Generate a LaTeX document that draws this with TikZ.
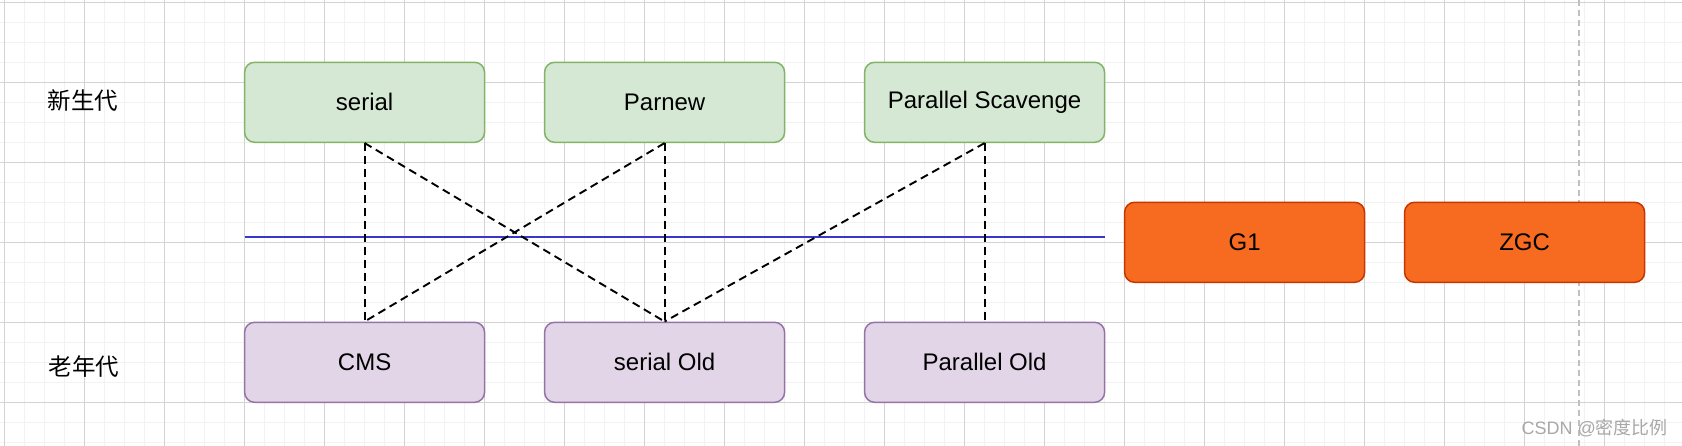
\documentclass[tikz,border=0pt]{standalone}
\usepackage{fontspec}
\setmainfont{Liberation Sans}
\newfontfamily\cjk{Noto Sans CJK SC}
\definecolor{gridminor}{HTML}{F2F2F2}
\definecolor{gridmajor}{HTML}{D3D3D3}
\definecolor{greenfill}{HTML}{D5E8D4}
\definecolor{greenline}{HTML}{82B366}
\definecolor{purplefill}{HTML}{E1D5E7}
\definecolor{purpleline}{HTML}{9673A6}
\definecolor{orangefill}{HTML}{F76B20}
\definecolor{orangeline}{HTML}{C73500}
\definecolor{blueline}{HTML}{3737CC}
\definecolor{pagebreak}{HTML}{C0C0C0}
\definecolor{wmark}{HTML}{A8A8A8}
\tikzset{
  gcbox/.style={rectangle, rounded corners=10pt, line width=1.5pt, minimum width=240pt, minimum height=80pt, inner sep=0pt, font=\fontsize{24}{28}\selectfont, text=black},
  young/.style={gcbox, fill=greenfill, draw=greenline},
  old/.style={gcbox, fill=purplefill, draw=purpleline},
  full/.style={gcbox, fill=orangefill, draw=orangeline},
  link/.style={line width=1.9pt, dash pattern=on 8pt off 5pt},
  rowlabel/.style={font=\cjk\fontsize{23.5}{27}\selectfont, inner sep=0pt}
}
\begin{document}
\begin{tikzpicture}[x=1pt,y=-1pt]
\useasboundingbox (0,0) rectangle (1682,446);
\fill[white] (0,0) rectangle (1682,446);
% grid
\foreach \i in {0,...,84} {\draw[gridminor, line width=0.8pt] ({4.6+20*\i},0) -- ({4.6+20*\i},446);}
\foreach \j in {0,...,22} {\draw[gridminor, line width=0.8pt] (0,{2.3+20*\j}) -- (1682,{2.3+20*\j});}
\foreach \i in {0,...,21} {\draw[gridmajor, line width=0.8pt] ({4.6+80*\i},0) -- ({4.6+80*\i},446);}
\foreach \j in {0,...,5} {\draw[gridmajor, line width=0.8pt] (0,{2.3+80*\j}) -- (1682,{2.3+80*\j});}
% page break line
\coordinate (pbtop) at (1579,0);
\coordinate (pbbot) at (1579,446);
\draw[pagebreak, line width=1.5pt, dash pattern=on 6pt off 4pt] (pbtop) -- (pbbot);
% divider
\coordinate (divl) at (244.6,237);
\coordinate (divr) at (1104.6,237);
\draw[blueline, line width=1.5pt] (divl) -- (divr);
% row labels
\node[rowlabel] (ylab) at (83,101) {新生代};
\node[rowlabel] (olab) at (84,367) {老年代};
% boxes
\node[young] (serial) at (364.6,102.3) {serial};
\node[young] (parnew) at (664.6,102.3) {Parnew};
\node[young] (ps) at (984.6,102.3) {Parallel Scavenge};
\node[old] (cms) at (364.6,362.3) {CMS};
\node[old] (sold) at (664.6,362.3) {serial Old};
\node[old] (pold) at (984.6,362.3) {Parallel Old};
\node[full] (g1) at (1244.6,242.3) {G1};
\node[full] (zgc) at (1524.6,242.3) {ZGC};
% links
\draw[link] (serial.south) -- (cms.north);
\draw[link] (serial.south) -- (sold.north);
\draw[link] (parnew.south) -- (cms.north);
\draw[link] (parnew.south) -- (sold.north);
\draw[link] (ps.south) -- (sold.north);
\draw[link] (ps.south) -- (pold.north);
% watermark
\node[anchor=east, inner sep=0pt, text=wmark, font=\fontsize{18}{21}\selectfont] (wm) at (1668,428) {CSDN @{\cjk 密度比例}};
\end{tikzpicture}
\end{document}
